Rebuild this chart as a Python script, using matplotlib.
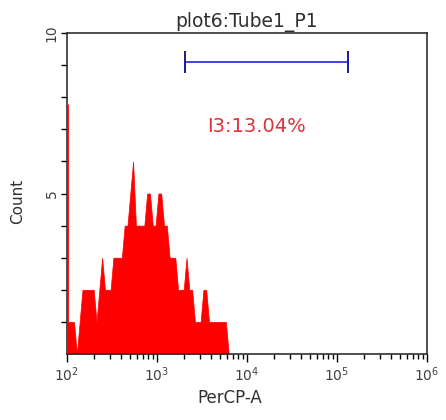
import matplotlib
matplotlib.use("Agg")
import matplotlib.pyplot as plt
import numpy as np
from matplotlib.ticker import LogLocator, FixedLocator, NullFormatter

# histogram channels: 32 per decade, starting at 10^2
channels_per_decade = 32
counts = [1, 1, 1, 0, 1, 2, 2, 2, 2, 2,
          1, 2, 3, 2, 2, 2, 3, 3, 3, 3,
          4, 4, 5, 6, 4, 4, 4, 4, 5, 5,
          4, 4, 5, 5, 4, 4, 3, 3, 3, 2,
          2, 2, 3, 2, 2, 1, 1, 1, 2, 2,
          1, 1, 1, 1, 1, 1, 1, 0]
edge_count = 7.8          # events piled up on the low edge
gate_lo, gate_hi, gate_y = 2050, 131000, 9.1
gate_label = "I3:13.04%"
label_x, label_y = 12900, 7.1

log_pos = 2 + (np.arange(len(counts)) + 0.5) / channels_per_decade
xs = np.concatenate([[2.0], log_pos])
ys = np.concatenate([[counts[0]], counts])

fig = plt.figure(figsize=(4.46, 4.20), dpi=100)
ax = fig.add_axes([0.1502, 0.1571, 0.8072, 0.7643])

ax.fill_between(10 ** xs, 0, ys, color="#ff0000", lw=0.5, edgecolor="#ff0000")
ax.vlines(100, 0, edge_count, color="#ff0000", lw=2.0, zorder=3)

# gate bracket
ax.plot([gate_lo, gate_hi], [gate_y, gate_y], color="#4040ee", lw=1.4)
ax.vlines([gate_lo, gate_hi], gate_y - 0.35, gate_y + 0.35, color="#1a1a90", lw=1.4)
ax.text(label_x, label_y, gate_label, color="#e0303c",
        fontsize=14, ha="center", va="center")

ax.set_xscale("log")
ax.set_xlim(100, 1e6)
ax.set_ylim(0, 10)

ax.xaxis.set_major_locator(LogLocator(base=10))
ax.xaxis.set_minor_locator(LogLocator(base=10, subs=np.arange(2, 10)))
ax.xaxis.set_minor_formatter(NullFormatter())
ax.tick_params(axis="x", which="major", length=6, width=1, direction="out",
               labelsize=10, labelcolor="#404040", pad=2)
ax.tick_params(axis="x", which="minor", length=3.5, width=1, direction="out")

ax.set_yticks([5, 10])
ax.set_yticklabels(["5", "10"], rotation=90, va="center")
ax.yaxis.set_minor_locator(FixedLocator(np.arange(1, 10)))
ax.tick_params(axis="y", which="both", length=4, width=1, direction="out",
               labelsize=10, labelcolor="#404040", pad=2)

for s in ax.spines.values():
    s.set_color("#303030")
    s.set_linewidth(1.2)

ax.set_title("plot6:Tube1_P1", fontsize=13.5, color="#303030", pad=4)
ax.set_xlabel("PerCP-A", fontsize=12, color="#303030")
ax.xaxis.set_label_coords(0.453, -0.11)
ax.set_ylabel("Count", fontsize=11, color="#303030")
ax.yaxis.set_label_coords(-0.115, 0.477)

fig.savefig("out.png", dpi=100)
